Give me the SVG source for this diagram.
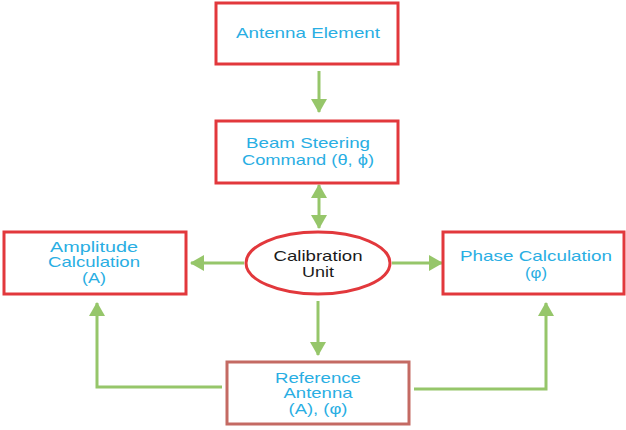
<svg xmlns="http://www.w3.org/2000/svg" width="626" height="430" viewBox="0 0 626 430">
<style>
.box{fill:#fff;stroke:#e2383c;stroke-width:3}
.ref{fill:#fff;stroke:#c46a63;stroke-width:3}
.ell{fill:#fff;stroke:#e2383c;stroke-width:3}
.t{font-family:"Liberation Sans",Arial,sans-serif;font-size:15px;fill:#29aee3;text-anchor:middle}
.k{fill:#1a1a1a}
.c{fill:none;stroke:#96c66a;stroke-width:3}
</style>
<defs>
<marker id="ah" markerUnits="userSpaceOnUse" markerWidth="14" markerHeight="16" refX="13" refY="8" orient="auto-start-reverse" viewBox="0 0 14 16">
<path d="M0,0 L14,8 L0,16 z" fill="#96c66a"/>
</marker>
</defs>
<rect width="626" height="430" fill="#fff"/>
<g id="connectors">
<line class="c" x1="319" y1="71" x2="319" y2="112" marker-end="url(#ah)"/>
<line class="c" x1="319" y1="185" x2="319" y2="228" marker-start="url(#ah)" marker-end="url(#ah)"/>
<line class="c" x1="244" y1="263" x2="191" y2="263" marker-end="url(#ah)"/>
<line class="c" x1="392" y1="263" x2="442" y2="263" marker-end="url(#ah)"/>
<line class="c" x1="318" y1="301" x2="318" y2="355" marker-end="url(#ah)"/>
<polyline class="c" points="222,387 97,387 97,303" marker-end="url(#ah)"/>
<polyline class="c" points="414,389 546,389 546,303" marker-end="url(#ah)"/>
</g>
<g id="antenna-element">
<rect class="box" x="216" y="3" width="182" height="61"/>
<text class="t" x="308" y="38" textLength="144" lengthAdjust="spacingAndGlyphs">Antenna Element</text>
</g>
<g id="beam-steering">
<rect class="box" x="216" y="121" width="182" height="62"/>
<text class="t" x="308" y="148" textLength="124" lengthAdjust="spacingAndGlyphs">Beam Steering</text>
<text class="t" x="308" y="165" textLength="132" lengthAdjust="spacingAndGlyphs">Command (θ, ϕ)</text>
</g>
<g id="calibration-unit">
<ellipse class="ell" cx="318" cy="263" rx="72" ry="31"/>
<text class="t k" x="318" y="261" textLength="89" lengthAdjust="spacingAndGlyphs">Calibration</text>
<text class="t k" x="318" y="277" textLength="32" lengthAdjust="spacingAndGlyphs">Unit</text>
</g>
<g id="amplitude-calculation">
<rect class="box" x="4" y="232" width="182" height="62"/>
<text class="t" x="94" y="252" textLength="88" lengthAdjust="spacingAndGlyphs">Amplitude</text>
<text class="t" x="94" y="267" textLength="92" lengthAdjust="spacingAndGlyphs">Calculation</text>
<text class="t" x="94" y="283" textLength="24" lengthAdjust="spacingAndGlyphs">(A)</text>
</g>
<g id="phase-calculation">
<rect class="box" x="443" y="232" width="181" height="62"/>
<text class="t" x="536" y="261" textLength="152" lengthAdjust="spacingAndGlyphs">Phase Calculation</text>
<text class="t" x="536" y="278" textLength="22" lengthAdjust="spacingAndGlyphs">(φ)</text>
</g>
<g id="reference-antenna">
<rect class="ref" x="227" y="362" width="182" height="62"/>
<text class="t" x="318" y="383" textLength="86" lengthAdjust="spacingAndGlyphs">Reference</text>
<text class="t" x="318" y="398" textLength="69" lengthAdjust="spacingAndGlyphs">Antenna</text>
<text class="t" x="318" y="414" textLength="59" lengthAdjust="spacingAndGlyphs">(A), (φ)</text>
</g>
</svg>
